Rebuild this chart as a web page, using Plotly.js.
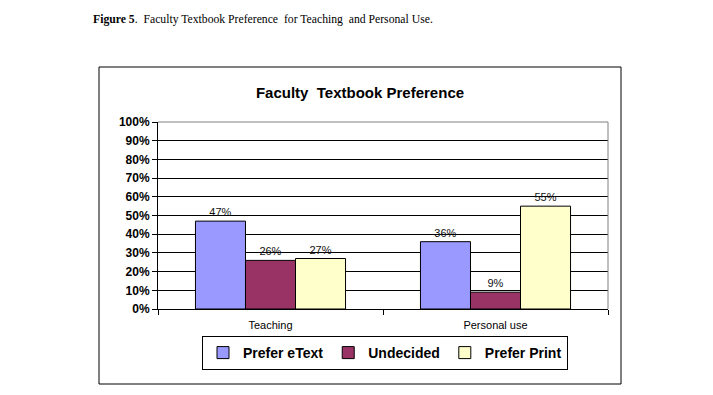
<!DOCTYPE html>
<html>
<head>
<meta charset="utf-8">
<script src="https://cdn.plot.ly/plotly-3.0.1.min.js"></script>
<style>
html,body{margin:0;padding:0;background:#fff;}
#chart{width:713px;height:395px;}
</style>
</head>
<body>
<div id="chart"></div>
<script>
const categories = ["Teaching", "Personal use"];
const seriesNames = ["Prefer eText", "Undecided", "Prefer Print"];
const preferEText = [0.47, 0.36];
const undecided = [0.26, 0.09];
const preferPrint = [0.27, 0.55];
const seriesColors = ["#9999FF", "#993366", "#FFFFCC"];
const yTickVals = [0, 0.1, 0.2, 0.3, 0.4, 0.5, 0.6, 0.7, 0.8, 0.9, 1.0];
const yTickText = ["0%", "10%", "20%", "30%", "40%", "50%", "60%", "70%", "80%", "90%", "100%"];

const seriesValues = [preferEText, undecided, preferPrint];
const ARIAL = "Liberation Sans, Arial, sans-serif";

const traces = seriesValues.map((vals, i) => ({
  type: "bar",
  name: seriesNames[i],
  x: categories,
  y: vals,
  marker: { color: seriesColors[i], line: { color: "#000000", width: 1 } },
  text: vals.map(v => Math.round(v * 100) + "%"),
  textposition: "outside",
  cliponaxis: false,
  textfont: { family: ARIAL, size: 11, color: "#111111" },
  hoverinfo: "skip"
}));

// plot area: x 158..608, y 122..309
const L = 158, R = 608, T = 122, B = 309, W = 713, H = 395;
const pw = R - L, ph = B - T;
const px = v => (v - L) / pw;
const py = v => (B - v) / ph;

const layout = {
  width: W, height: H,
  margin: { l: L, r: W - R, t: T, b: H - B, pad: 0 },
  paper_bgcolor: "#ffffff",
  plot_bgcolor: "#ffffff",
  showlegend: true,
  barmode: "group",
  bargap: 0.333,
  bargroupgap: 0,
  font: { family: ARIAL, color: "#000000" },
  title: {
    text: "<b>Faculty  Textbook Preference</b>",
    font: { family: ARIAL, size: 15, color: "#000000" },
    xref: "paper", x: px(360), xanchor: "center",
    yref: "container", y: 1 - 93 / H, yanchor: "middle"
  },
  xaxis: {
    type: "category",
    showgrid: false,
    showline: true, linecolor: "#000000", linewidth: 1,
    ticks: "outside", tickson: "boundaries", ticklen: 5, tickcolor: "#000000",
    ticklabelstandoff: 6,
    tickfont: { family: ARIAL, size: 11, color: "#000000" },
    zeroline: false, fixedrange: true
  },
  yaxis: {
    range: [0, 1],
    tickvals: yTickVals, ticktext: yTickText,
    showgrid: true, gridcolor: "#000000", gridwidth: 1,
    showline: true, linecolor: "#000000", linewidth: 1,
    ticks: "outside", ticklen: 5, tickcolor: "#000000",
    tickfont: { family: ARIAL, size: 12, color: "#000000", weight: "bold" },
    zeroline: false, fixedrange: true
  },
  legend: {
    orientation: "h",
    x: px(202), xanchor: "left",
    y: py(336), yanchor: "top",
    bordercolor: "#000000", borderwidth: 1,
    bgcolor: "#ffffff",
    font: { family: ARIAL, size: 14, color: "#000000", weight: "bold" },
    itemwidth: 30,
    traceorder: "normal"
  },
  shapes: [
    { type: "rect", xref: "paper", yref: "paper", x0: px(99), x1: px(621), y0: py(384), y1: py(67),
      line: { color: "#000000", width: 1 }, fillcolor: "rgba(0,0,0,0)", layer: "below" },
    { type: "line", xref: "paper", yref: "paper", x0: 0, x1: 1, y0: 1, y1: 1,
      line: { color: "#808080", width: 1 }, layer: "above" },
    { type: "line", xref: "paper", yref: "paper", x0: 1, x1: 1, y0: 0, y1: 1,
      line: { color: "#808080", width: 1 }, layer: "above" }
  ],
  annotations: [
    { xref: "paper", yref: "paper", x: px(91), y: py(19), xanchor: "left", yanchor: "middle",
      showarrow: false,
      text: "<b>Figure 5</b>.  Faculty Textbook Preference  for Teaching  and Personal Use.",
      font: { family: "Liberation Serif, Times New Roman, serif", size: 11.7, color: "#000000" } }
  ]
};

Plotly.newPlot("chart", traces, layout, { displayModeBar: false, staticPlot: true });
</script>
</body>
</html>
